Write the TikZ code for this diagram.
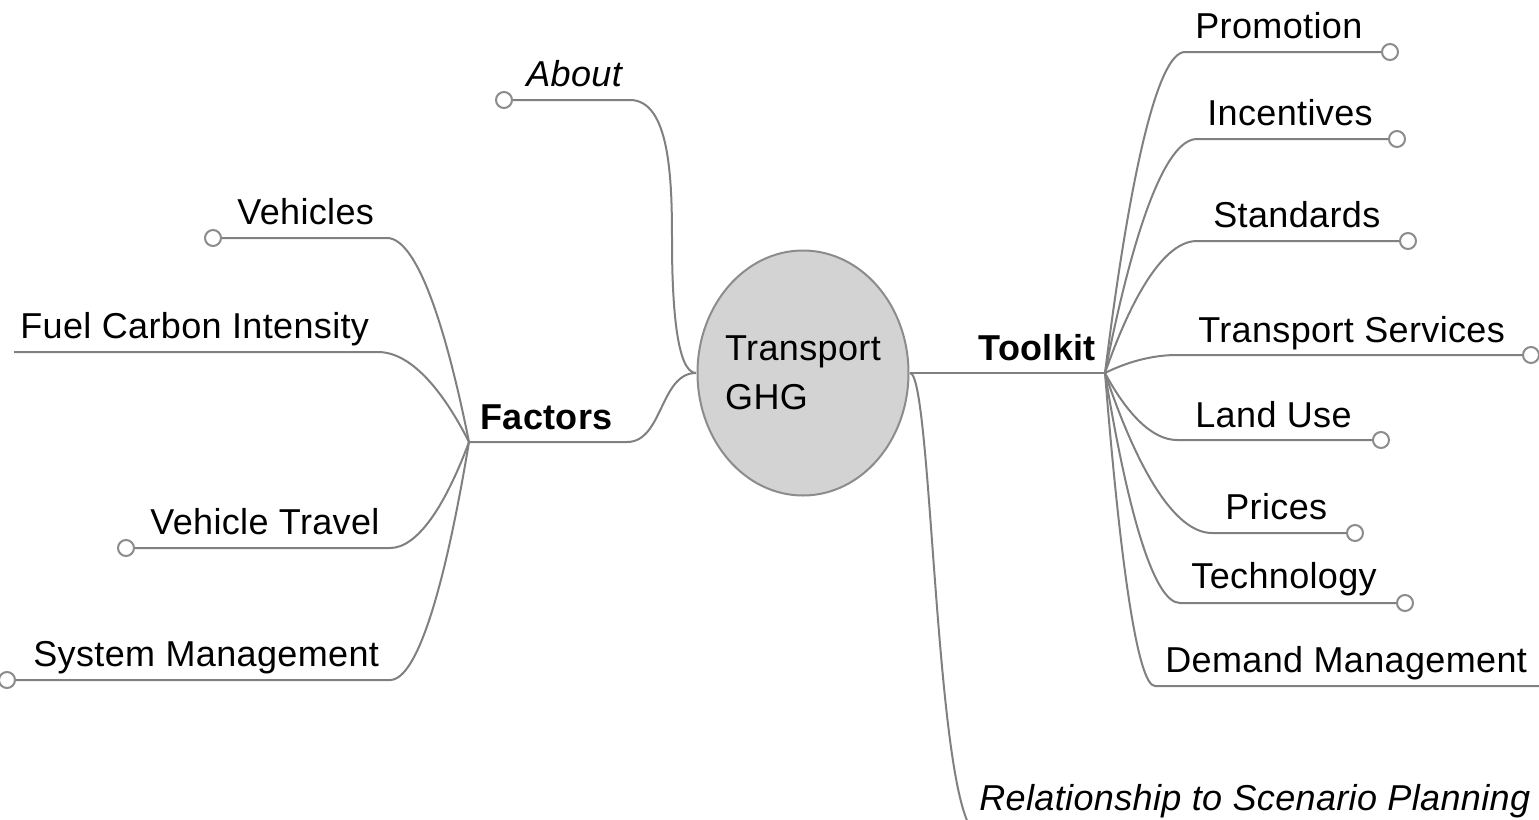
\documentclass[tikz,border=0pt]{standalone}
\usepackage{fontspec}
\setmainfont{Liberation Sans}[LetterSpace=1]
\usetikzlibrary{shapes.geometric,calc}
\definecolor{linkgray}{HTML}{808080}
\definecolor{knobgray}{HTML}{8C8C8C}
\definecolor{hubfill}{HTML}{D3D3D3}
\tikzset{
  link/.style={color=linkgray,line width=1pt},
  knob/.style={circle,draw=knobgray,fill=white,line width=1pt,minimum size=8pt,inner sep=0pt},
  lbl/.style={anchor=base west,inner sep=0pt},
  core/.style={ellipse,draw=knobgray,fill=hubfill,line width=1pt,minimum width=105.5pt,
    minimum height=122.5pt,inner xsep=-4pt,inner ysep=0pt,align=left},
  limb/.style={to path={let \p1=(\tikztostart),\p2=(\tikztotarget) in
    .. controls ({\x1+0.3*(\x2-\x1)},{\y1+0.6*(\y2-\y1)}) and ({\x2-0.35*(\x2-\x1)},\y2) .. (\tikztotarget)}}
}
\begin{document}
\begin{tikzpicture}[x=0.5pt,y=-0.5pt,font=\fontsize{18}{24.5}\selectfont]
  \useasboundingbox (0,0) rectangle (1539,820);
  \clip (0,0) rectangle (1539,820);
  \coordinate (jL) at (696,373);
  \coordinate (jR) at (910,373);
  \coordinate (hubL) at (469,442);
  \coordinate (hubR) at (1105,373);

  \node[lbl] (about) at (526,86) {\itshape About};
  \node[lbl] (factors) at (480,429) {\bfseries Factors};
  \node[lbl] (toolkit) at (978,360) {\bfseries Toolkit};
  \node[lbl] (vehicles) at (237,224) {Vehicles};
  \node[lbl] (fuel) at (20,338) {Fuel Carbon Intensity};
  \node[lbl] (travel) at (150,534) {Vehicle Travel};
  \node[lbl] (sysman) at (33,666) {System Management};
  \node[lbl] (promotion) at (1195,38) {Promotion};
  \node[lbl] (incentives) at (1207,125) {Incentives};
  \node[lbl] (standards) at (1213,227) {Standards};
  \node[lbl] (services) at (1198,342) {Transport Services};
  \node[lbl] (landuse) at (1195,427) {Land Use};
  \node[lbl] (prices) at (1225,519) {Prices};
  \node[lbl] (technology) at (1191,588) {Technology};
  \node[lbl] (demand) at (1165,672) {Demand Management};
  \node[lbl] (scenario) at (979,810) {\itshape Relationship to Scenario Planning};

  \node[knob] (aboutK) at (504,100) {};
  \node[knob] (vehiclesK) at (213,238) {};
  \coordinate (fuelK) at (14,352);
  \node[knob] (travelK) at (126,548) {};
  \node[knob] (sysmanK) at (7,680) {};
  \node[knob] (promotionK) at (1390,52) {};
  \node[knob] (incentivesK) at (1397,139) {};
  \node[knob] (standardsK) at (1408,241) {};
  \node[knob] (servicesK) at (1531,355) {};
  \node[knob] (landuseK) at (1381,440) {};
  \node[knob] (pricesK) at (1355,533) {};
  \node[knob] (technologyK) at (1405,603) {};
  \coordinate (demandK) at (1545,686);

  \coordinate (aboutM) at (672,240);
  \coordinate (aboutS) at (630,100);
  \coordinate (factorsS) at (627,442);
  \coordinate (vehiclesS) at (387,238);
  \coordinate (fuelS) at (378,352);
  \coordinate (travelS) at (390,548);
  \coordinate (sysmanS) at (390,680);
  \coordinate (promotionS) at (1185,52);
  \coordinate (incentivesS) at (1197,139);
  \coordinate (standardsS) at (1197,241);
  \coordinate (servicesS) at (1177,355);
  \coordinate (landuseS) at (1177,440);
  \coordinate (pricesS) at (1212,533);
  \coordinate (technologyS) at (1180,603);
  \coordinate (demandS) at (1155,686);
  \coordinate (scenarioS) at (980,835);

  \begin{scope}[link]
    \draw (jR) -- (hubR);
    \draw (jL) .. controls +(-20,0) and +(0,60) .. (aboutM)
      .. controls +(0,-60) and +(40,0) .. (aboutS) -- (aboutK);
    \draw (jL) .. controls +(-36,0) and +(36,0) .. (factorsS) -- (hubL);
    \draw (jR) .. controls +(23,0) and +(-45,0) .. (scenarioS);
    \draw (hubL) to[limb] (vehiclesS) -- (vehiclesK);
    \draw (hubL) to[limb] (fuelS) -- (fuelK);
    \draw (hubL) to[limb] (travelS) -- (travelK);
    \draw (hubL) to[limb] (sysmanS) -- (sysmanK);
    \draw (hubR) to[limb] (promotionS) -- (promotionK);
    \draw (hubR) to[limb] (incentivesS) -- (incentivesK);
    \draw (hubR) to[limb] (standardsS) -- (standardsK);
    \draw (hubR) to[limb] (servicesS) -- (servicesK);
    \draw (hubR) to[limb] (landuseS) -- (landuseK);
    \draw (hubR) to[limb] (pricesS) -- (pricesK);
    \draw (hubR) to[limb] (technologyS) -- (technologyK);
    \draw (hubR) to[limb] (demandS) -- (demandK);
  \end{scope}

  \node[core] (ghg) at (803,373) {Transport\\GHG};
\end{tikzpicture}
\end{document}
